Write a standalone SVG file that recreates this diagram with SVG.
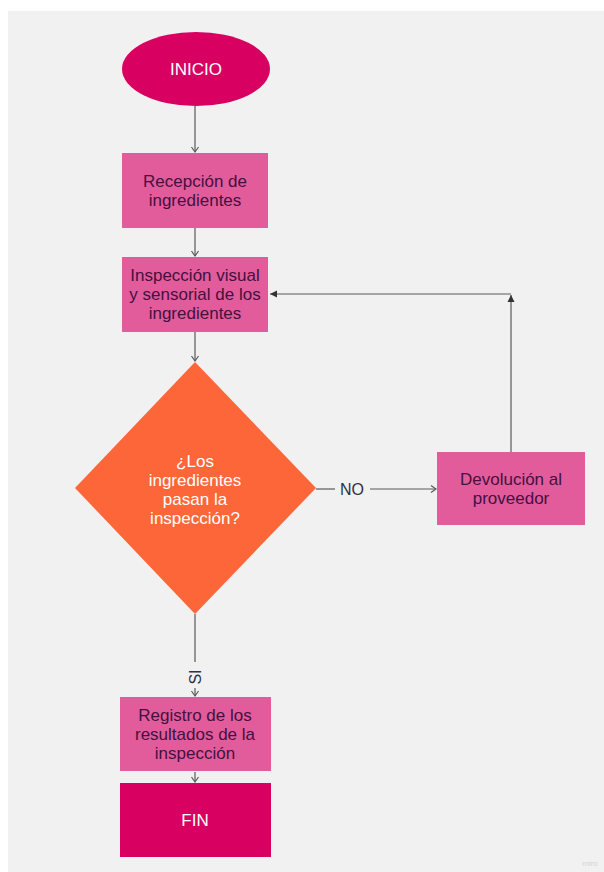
<svg xmlns="http://www.w3.org/2000/svg" width="604" height="872" viewBox="0 0 604 872">
  <defs>
    <style>
      text { font-family: "Liberation Sans", Arial, sans-serif; font-size: 17px; text-anchor: middle; }
      .light { fill: #ffffff; }
      .dark { fill: #45103f; }
      .term { fill: #d80060; }
      .proc { fill: #e25c9c; }
      .dec { fill: #fd6638; }
      .conn { stroke: #5a5a5a; stroke-width: 1.2; fill: none; }
      .lbl { fill: #2f2f45; font-size: 16px; }
    </style>
    <marker id="open" markerWidth="10" markerHeight="10" refX="8" refY="5" orient="auto" markerUnits="userSpaceOnUse">
      <path d="M3,1.5 L8,5 L3,8.5" fill="none" stroke="#5a5a5a" stroke-width="1.2"/>
    </marker>
    <marker id="solid" markerWidth="10" markerHeight="10" refX="8" refY="5" orient="auto" markerUnits="userSpaceOnUse">
      <path d="M1,1.5 L8,5 L1,8.5 Z" fill="#333333"/>
    </marker>
  </defs>

  <!-- canvas -->
  <rect x="0" y="0" width="604" height="872" fill="#ffffff"/>
  <rect x="8" y="11" width="596" height="861" fill="#f1f1f1"/>

  <!-- connectors -->
  <g id="connectors">
    <line class="conn" x1="195" y1="106" x2="195" y2="152" marker-end="url(#open)"/>
    <line class="conn" x1="195" y1="228" x2="195" y2="256" marker-end="url(#open)"/>
    <line class="conn" x1="195" y1="332" x2="195" y2="361" marker-end="url(#open)"/>
    <!-- NO branch -->
    <line class="conn" x1="316" y1="489" x2="335" y2="489"/>
    <line class="conn" x1="370" y1="489" x2="436" y2="489" marker-end="url(#open)"/>
    <text class="lbl" x="352" y="495">NO</text>
    <!-- return loop -->
    <line class="conn" x1="511" y1="452" x2="511" y2="295" marker-end="url(#solid)"/>
    <line class="conn" x1="511" y1="294" x2="270" y2="294" marker-end="url(#solid)"/>
    <!-- SI branch -->
    <line class="conn" x1="195" y1="614" x2="195" y2="662"/>
    <text class="lbl" transform="translate(201,677) rotate(-90)">SI</text>
    <line class="conn" x1="195" y1="688" x2="195" y2="696" marker-end="url(#open)"/>
    <line class="conn" x1="195" y1="772" x2="195" y2="782" marker-end="url(#open)"/>
  </g>

  <g id="inicio">
    <ellipse class="term" cx="196" cy="69" rx="74" ry="37"/>
    <text class="light" x="196" y="75">INICIO</text>
  </g>

  <g id="recepcion">
    <rect class="proc" x="122" y="153" width="146" height="75"/>
    <text class="dark" x="195" y="187">Recepción de</text>
    <text class="dark" x="195" y="206">ingredientes</text>
  </g>

  <g id="inspeccion">
    <rect class="proc" x="122" y="257" width="146" height="75"/>
    <text class="dark" x="195" y="281">Inspección visual</text>
    <text class="dark" x="195" y="300">y sensorial de los</text>
    <text class="dark" x="195" y="319">ingredientes</text>
  </g>

  <g id="decision">
    <polygon class="dec" points="195,362 316,488 195,614 75,488"/>
    <text class="light" x="195" y="467">¿Los</text>
    <text class="light" x="195" y="486">ingredientes</text>
    <text class="light" x="195" y="505">pasan la</text>
    <text class="light" x="195" y="524">inspección?</text>
  </g>

  <g id="devolucion">
    <rect class="proc" x="437" y="452" width="148" height="73"/>
    <text class="dark" x="511" y="485">Devolución al</text>
    <text class="dark" x="511" y="504">proveedor</text>
  </g>

  <g id="registro">
    <rect class="proc" x="120" y="697" width="151" height="74"/>
    <text class="dark" x="195" y="721">Registro de los</text>
    <text class="dark" x="195" y="740">resultados de la</text>
    <text class="dark" x="195" y="759">inspección</text>
  </g>

  <g id="fin">
    <rect class="term" x="120" y="783" width="151" height="74"/>
    <text class="light" x="195" y="826">FIN</text>
  </g>

  <text x="590" y="866" style="font-size:8px; fill:#d4d4d4;">miro</text>
</svg>
